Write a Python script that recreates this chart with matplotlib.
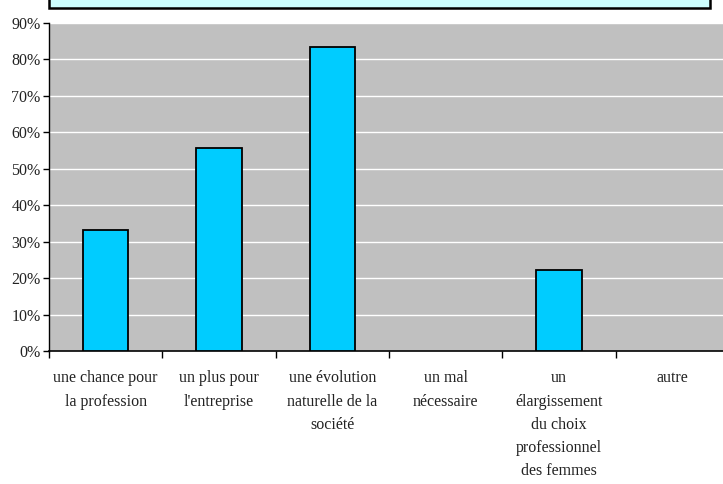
import matplotlib.pyplot as plt
from matplotlib.patches import Rectangle
import numpy as np

categories = [
    "une chance pour\nla profession",
    "un plus pour\nl'entreprise",
    "une évolution\nnaturelle de la\nsociété",
    "un mal\nnécessaire",
    "un\nélargissement\ndu choix\nprofessionnel\ndes femmes",
    "autre",
]
values = [33.3, 55.6, 83.3, 0.0, 22.2, 0.0]
yticks = [0, 10, 20, 30, 40, 50, 60, 70, 80, 90]

plt.rcParams['font.family'] = ['Liberation Serif', 'DejaVu Serif']

W, H = 723, 484
fig = plt.figure(figsize=(W / 100, H / 100), dpi=100, facecolor='white')

# plot area in pixels: left 49, right 729 (past image edge), top 23, bottom 351
left, right, top, bottom = 49, 729, 23, 351
ax = fig.add_axes([left / W, 1 - bottom / H, (right - left) / W, (bottom - top) / H])
ax.set_facecolor('#C0C0C0')

x = np.arange(len(categories))
edges = ['black' if v > 0 else 'none' for v in values]
ax.bar(x, values, width=0.4, color='#00CCFF', edgecolor=edges, linewidth=1.3, zorder=3)

ax.set_xlim(-0.5, len(categories) - 0.5)
ax.set_ylim(0, 90)
ax.set_yticks(yticks)
ax.set_yticklabels(['{}%'.format(t) for t in yticks], fontsize=11.5, color='#222222')
ax.yaxis.grid(True, color='white', linewidth=1.0, zorder=0)
ax.set_axisbelow(True)

ax.set_xticks(np.arange(len(categories) + 1) - 0.5)
ax.set_xticklabels([])
ax.tick_params(axis='x', length=5, width=1, direction='out')
ax.tick_params(axis='y', length=4, width=1, direction='out', pad=2)

for i, lab in enumerate(categories):
    ax.text(i, -5.3, lab, ha='center', va='top', fontsize=11.5, linespacing=1.6,
            color='#222222')

for s in ['top', 'right']:
    ax.spines[s].set_visible(False)
ax.spines['left'].set_linewidth(1.0)
ax.spines['bottom'].set_linewidth(1.2)

# title box at the top (its text is cut off in the reference)
box = Rectangle((49 / W, 1 - 8 / H), (710 - 49) / W, 20 / H, transform=fig.transFigure,
                facecolor='#CCFFFF', edgecolor='black', linewidth=1.8)
fig.patches.append(box)

fig.savefig('out.png', dpi=100)
